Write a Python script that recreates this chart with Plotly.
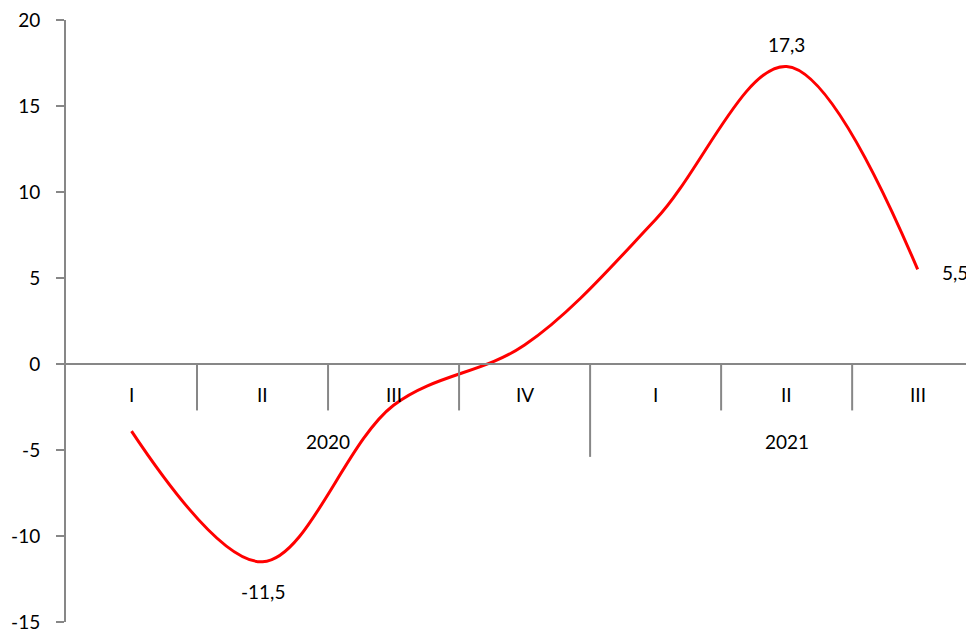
import plotly.graph_objects as go

quarters = ["I", "II", "III", "IV", "I", "II", "III"]
years = ["2020", "2021"]
year_spans = [(0, 3), (4, 6)]
values = [-3.9, -11.5, -2.4, 1.1, 8.4, 17.3, 5.5]
label_idx = {1: "below", 5: "above", 6: "right"}
y_ticks = [-15, -10, -5, 0, 5, 10, 15, 20]
y_tick_text = ["-15", "-10", "-5", "0", "5", "10", "15", "20"]

x = list(range(len(values)))
grey = "#878787"
font = dict(family="Lato, Carlito, sans-serif", size=19, color="#000000")

fig = go.Figure()
fig.add_trace(go.Scatter(
    x=x, y=values, mode="lines",
    line=dict(color="#ff0000", width=3, shape="spline", smoothing=1.0),
    hoverinfo="skip", showlegend=False,
))

annotations = []
for i, q in enumerate(quarters):
    annotations.append(dict(x=i, y=0, xref="x", yref="y", text=q, showarrow=False,
                            yanchor="middle", yshift=-30, font=font))
for name, (a, b) in zip(years, year_spans):
    annotations.append(dict(x=(a + b) / 2, y=0, xref="x", yref="y",
                            text=name, showarrow=False, yanchor="middle", yshift=-77, font=font))
for i, pos in label_idx.items():
    txt = f"{values[i]:.1f}".replace(".", ",")
    if pos == "below":
        annotations.append(dict(x=i, y=values[i], text=txt, showarrow=False, yanchor="middle", yshift=-30, font=font))
    elif pos == "above":
        annotations.append(dict(x=i, y=values[i], text=txt, showarrow=False, yanchor="middle", yshift=22, font=font))
    else:
        annotations.append(dict(x=i, y=values[i], text=txt, showarrow=False, xanchor="left", yanchor="middle",
                                xshift=22, yshift=-3, font=font))

shapes = [dict(type="line", xref="paper", x0=0, x1=1, yref="y", y0=0, y1=0,
               line=dict(color=grey, width=2))]
for i in range(len(quarters) - 1):
    bottom = -5.4 if i + 0.5 == year_spans[1][0] - 0.5 else -2.7
    shapes.append(dict(type="line", xref="x", x0=i + 0.5, x1=i + 0.5, yref="y", y0=0, y1=bottom,
                       line=dict(color=grey, width=2)))

fig.update_layout(
    width=966, height=625,
    margin=dict(l=58, r=0, t=10, b=8),
    plot_bgcolor="white", paper_bgcolor="white",
    showlegend=False,
    annotations=annotations, shapes=shapes,
    xaxis=dict(range=[-0.5, 6.43], showticklabels=False, showgrid=False, zeroline=False,
               showline=False, ticks=""),
    yaxis=dict(range=[-15, 20], tickmode="array", tickvals=y_ticks, ticktext=y_tick_text,
               showgrid=False, zeroline=False, ticklabeloverflow="allow",
               showline=True, linecolor=grey, linewidth=2, ticks="outside", ticklen=8,
               tickcolor=grey, tickwidth=2, tickfont=font, ticklabelstandoff=12),
)
fig.write_html("out.html")
